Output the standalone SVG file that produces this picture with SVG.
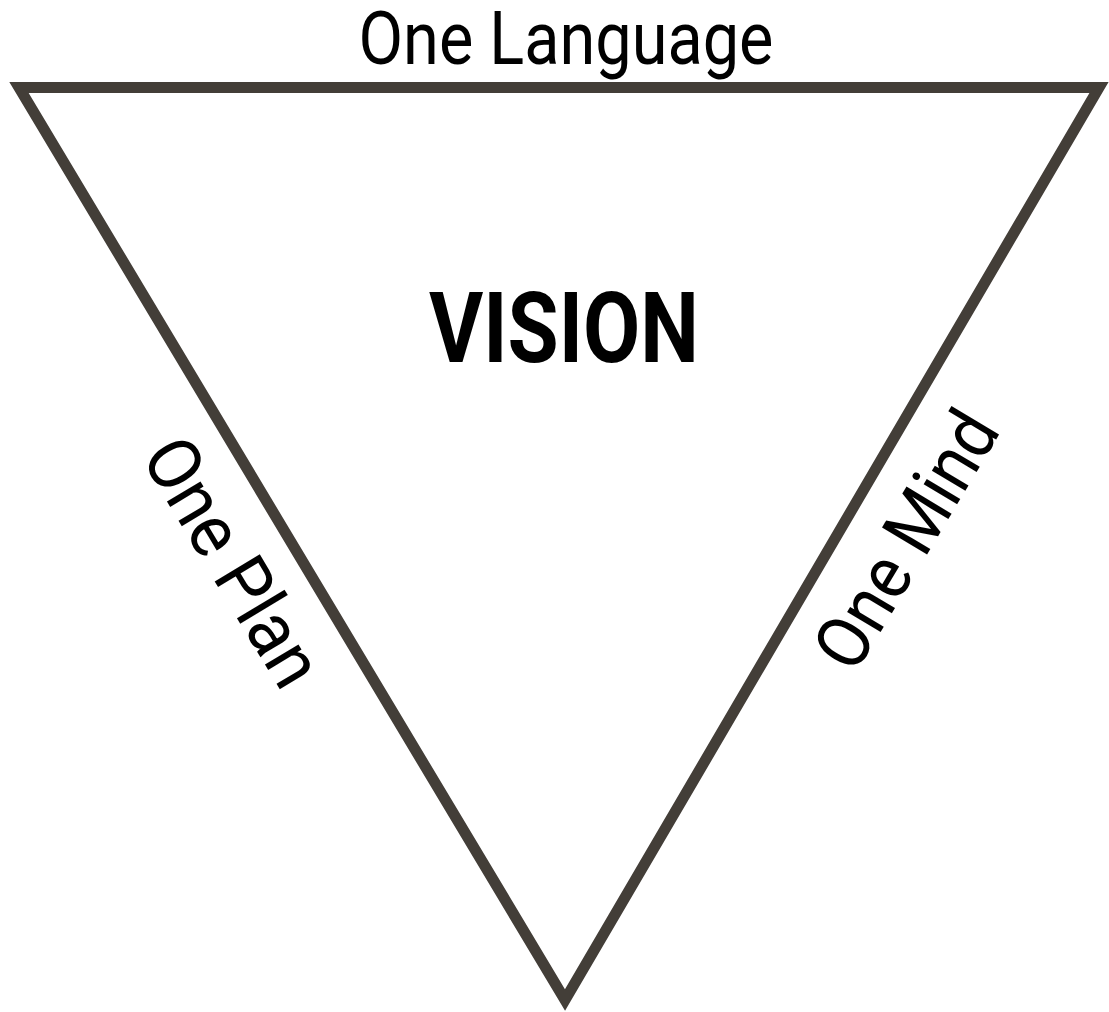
<svg xmlns="http://www.w3.org/2000/svg" width="1109" height="1012" viewBox="0 0 1109 1012">
<style>
.lbl{font-family:"Roboto","Liberation Sans",sans-serif;font-size:74px;fill:#000;text-anchor:middle}
.title{font-family:"Roboto","Liberation Sans",sans-serif;font-size:98px;font-weight:bold;fill:#000;text-anchor:middle}
</style>
<rect width="1109" height="1012" fill="#fff"/>
<g id="connectors"></g>
<g id="triangle">
<polygon points="19,87.5 1099,87.5 565,1000" fill="none" stroke="#433e38" stroke-width="11" stroke-linejoin="miter" stroke-miterlimit="10"/>
</g>
<g id="one-language"><text class="lbl" x="566" y="64" textLength="415" lengthAdjust="spacingAndGlyphs">One Language</text></g>
<g id="vision"><text class="title" x="564" y="362" textLength="270" lengthAdjust="spacingAndGlyphs">VISION</text></g>
<g id="one-plan"><text class="lbl" transform="translate(211,575) rotate(59)" x="0" y="0" textLength="276" lengthAdjust="spacingAndGlyphs">One Plan</text></g>
<g id="one-mind"><text class="lbl" transform="translate(928,553) rotate(-59)" x="0" y="0" textLength="286" lengthAdjust="spacingAndGlyphs">One Mind</text></g>
</svg>
